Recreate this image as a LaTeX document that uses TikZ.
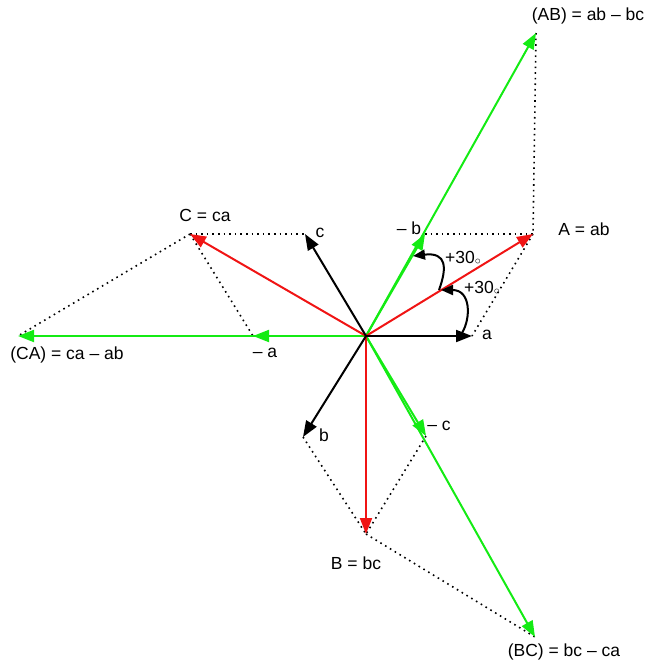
\documentclass[tikz,border=0pt]{standalone}
\usepackage{fontspec}
\setmainfont{Liberation Sans}
\usetikzlibrary{arrows.meta}
\definecolor{vgreen}{RGB}{20,235,20}
\definecolor{vred}{RGB}{240,20,20}
\begin{document}
\begin{tikzpicture}[x=1pt,y=-1pt,
  vec/.style={line width=2pt,-{Triangle[length=16pt,width=12pt]}},
  gvec/.style={vec,vgreen},
  rvec/.style={vec,vred},
  bvec/.style={vec,black},
  dots/.style={black,line width=1.6pt,dash pattern=on 1.6pt off 4pt},
  arc/.style={black,line width=2pt,-{Triangle[length=12pt,width=10pt]}},
  lbl/.style={font=\fontsize{17.5}{20}\selectfont,inner sep=0pt}]
\useasboundingbox (0,0) rectangle (650,664);
% points
\coordinate (O) at (366,336);
\coordinate (a) at (472,336);
\coordinate (ma) at (253,336);
\coordinate (b) at (303,437);
\coordinate (mb) at (425,234);
\coordinate (c) at (305,234);
\coordinate (mc) at (426,436);
\coordinate (A) at (533,234);
\coordinate (B) at (366,534);
\coordinate (C) at (190,234);
\coordinate (AB) at (536,33);
\coordinate (BC) at (535,637);
\coordinate (CA) at (18,336);
% dotted construction lines
\draw[dots] (AB) -- (A);
\draw[dots] (mb) -- (A);
\draw[dots] (A) -- (a);
\draw[dots] (C) -- (c);
\draw[dots] (C) -- (ma);
\draw[dots] (C) -- (CA);
\draw[dots] (b) -- (B);
\draw[dots] (mc) -- (B);
\draw[dots] (B) -- (BC);
% green vectors
\draw[gvec] (O) -- (AB);
\draw[gvec] (O) -- (mb);
\draw[gvec] (O) -- (CA);
\draw[gvec] (O) -- (ma);
\draw[gvec] (O) -- (BC);
\draw[gvec] (O) -- (mc);
% red vectors
\draw[rvec] (O) -- (A);
\draw[rvec] (O) -- (B);
\draw[rvec] (O) -- (C);
% black vectors
\draw[bvec] (O) -- (a);
\draw[bvec] (O) -- (b);
\draw[bvec] (O) -- (c);
% angle arcs
\coordinate (r1s) at (462,333);
\coordinate (r1e) at (441,290);
\coordinate (r2s) at (439,290);
\coordinate (r2e) at (413,256);
\draw[arc] (r1s) .. controls (471,318) and (471,290) .. (r1e);
\draw[arc] (r2s) .. controls (447,268) and (447,252) .. (r2e);
% labels
\node[lbl] (tAB) at (588,16) {(AB) = ab – bc};
\node[lbl] (tA) at (584,229) {A = ab};
\node[lbl] (tmb) at (409,228) {– b};
\node[lbl] (ta) at (487,335) {a};
\node[lbl] (tc) at (320,233) {c};
\node[lbl] (tC) at (205,215) {C = ca};
\node[lbl] (tma) at (265,353) {– a};
\node[lbl] (tCA) at (67,355) {(CA) = ca – ab};
\node[lbl] (tb) at (324,435) {b};
\node[lbl] (tmc) at (439,426) {– c};
\node[lbl] (tB) at (356,563) {B = bc};
\node[lbl] (tBC) at (564,652) {(BC) = bc – ca};
\node[lbl] (t30a) at (463,258) {+30\raisebox{-0.5pt}{\fontsize{12}{12}\selectfont$\circ$}};
\node[lbl] (t30b) at (482,288) {+30\raisebox{-0.5pt}{\fontsize{12}{12}\selectfont$\circ$}};
\end{tikzpicture}
\end{document}
